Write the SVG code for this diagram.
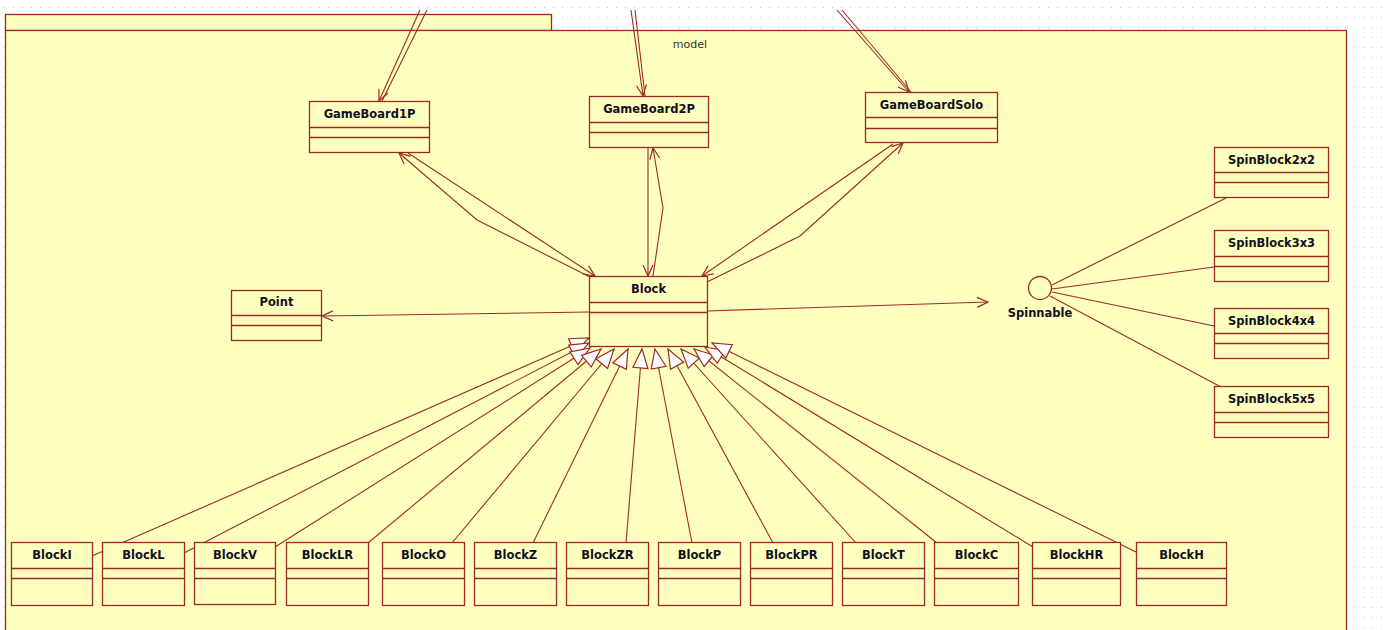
<svg xmlns="http://www.w3.org/2000/svg" width="1384" height="630" viewBox="0 0 1384 630">
<style>
.cls rect{fill:#FFFFC0;stroke:#9C2A24;stroke-width:1.3}
.cls line{stroke:#9C2A24;stroke-width:1.3}
.cls text{font-family:"DejaVu Sans",Verdana,sans-serif;font-weight:bold;font-size:11.5px;fill:#101020;text-anchor:middle}
.con path,.con line,.con polyline{fill:none;stroke:#9C2A24;stroke-width:1.1}
.lbl{font-family:"DejaVu Sans",Verdana,sans-serif;font-size:11px;fill:#333}
</style>
<defs>
<pattern id="dots" width="9" height="10" patternUnits="userSpaceOnUse">
<rect x="4" y="7" width="1" height="1" fill="#c8c8c8"/>
</pattern>
<marker id="open" markerUnits="userSpaceOnUse" markerWidth="14" markerHeight="12" refX="11" refY="5" orient="auto" overflow="visible">
<path d="M0,0 L11,5 L0,10" fill="none" stroke="#9C2A24" stroke-width="1.2"/>
</marker>
<marker id="tri" markerUnits="userSpaceOnUse" markerWidth="22" markerHeight="18" refX="19" refY="7.5" orient="auto" overflow="visible">
<path d="M0,0 L19,7.5 L0,15 Z" fill="#ffffff" stroke="#9C2A24" stroke-width="1.2"/>
</marker>
</defs>
<rect x="0" y="0" width="1384" height="630" fill="#ffffff"/>
<rect x="0" y="0" width="1384" height="630" fill="url(#dots)"/>
<g id="package">
<rect x="5.5" y="14.5" width="546" height="16" fill="#FFFFC0" stroke="#9C2A24" stroke-width="1.3"/>
<rect x="5.5" y="30.5" width="1341" height="620" fill="#FFFFC0" stroke="#9C2A24" stroke-width="1.3"/>
<text class="lbl" x="690" y="48" text-anchor="middle">model</text>
</g>
<g class="con" id="connectors">
<line x1="420" y1="10" x2="379" y2="101" marker-end="url(#open)"/>
<line x1="427" y1="10" x2="382" y2="101"/>
<line x1="631" y1="10" x2="643" y2="96" marker-end="url(#open)"/>
<line x1="635" y1="10" x2="645" y2="96"/>
<line x1="837" y1="10" x2="909" y2="92" marker-end="url(#open)"/>
<line x1="842" y1="10" x2="911" y2="92"/>
<polyline points="590,277 477,220 399,153" marker-end="url(#open)"/>
<line x1="408" y1="153" x2="595" y2="276" marker-end="url(#open)"/>
<line x1="648" y1="148" x2="648" y2="276" marker-end="url(#open)"/>
<polyline points="653,276 663,208 653,148" marker-end="url(#open)"/>
<line x1="893" y1="144" x2="702" y2="276" marker-end="url(#open)"/>
<polyline points="707,282 800,236 903,143" marker-end="url(#open)"/>
<line x1="590" y1="312" x2="322" y2="316" marker-end="url(#open)"/>
<line x1="707" y1="311" x2="988" y2="302" marker-end="url(#open)"/>
<line x1="1052" y1="285" x2="1226" y2="198"/>
<line x1="1052" y1="289" x2="1214" y2="267"/>
<line x1="1052" y1="292" x2="1214" y2="326"/>
<line x1="1050" y1="296" x2="1221" y2="387"/>
<line x1="92" y1="556" x2="589" y2="338" marker-end="url(#tri)"/>
<line x1="184" y1="553" x2="589" y2="343" marker-end="url(#tri)"/>
<line x1="275" y1="547" x2="590" y2="348" marker-end="url(#tri)"/>
<line x1="368" y1="543" x2="601" y2="349" marker-end="url(#tri)"/>
<line x1="452" y1="543" x2="614" y2="349" marker-end="url(#tri)"/>
<line x1="533" y1="543" x2="628" y2="349" marker-end="url(#tri)"/>
<line x1="626" y1="543" x2="642" y2="349" marker-end="url(#tri)"/>
<line x1="692" y1="543" x2="655" y2="349" marker-end="url(#tri)"/>
<line x1="773" y1="543" x2="668" y2="349" marker-end="url(#tri)"/>
<line x1="856" y1="543" x2="681" y2="349" marker-end="url(#tri)"/>
<line x1="937" y1="543" x2="694" y2="349" marker-end="url(#tri)"/>
<line x1="1033" y1="547" x2="705" y2="347" marker-end="url(#tri)"/>
<line x1="1136" y1="552" x2="712" y2="343" marker-end="url(#tri)"/>
</g>
<g class="cls" id="GameBoard1P"><rect x="309.5" y="101.5" width="120" height="51"/><line x1="309.5" y1="127.5" x2="429.5" y2="127.5"/><line x1="309.5" y1="137.5" x2="429.5" y2="137.5"/><text x="369.5" y="118">GameBoard1P</text></g>
<g class="cls" id="GameBoard2P"><rect x="589.5" y="96.5" width="119" height="51"/><line x1="589.5" y1="122.5" x2="708.5" y2="122.5"/><line x1="589.5" y1="132.5" x2="708.5" y2="132.5"/><text x="649" y="113">GameBoard2P</text></g>
<g class="cls" id="GameBoardSolo"><rect x="865.5" y="92.5" width="132" height="50"/><line x1="865.5" y1="117.5" x2="997.5" y2="117.5"/><line x1="865.5" y1="128.5" x2="997.5" y2="128.5"/><text x="931.5" y="109">GameBoardSolo</text></g>
<g class="cls" id="Block"><rect x="589.5" y="276.5" width="118" height="70"/><line x1="589.5" y1="302.5" x2="707.5" y2="302.5"/><line x1="589.5" y1="312.5" x2="707.5" y2="312.5"/><text x="648.5" y="293">Block</text></g>
<g class="cls" id="Point"><rect x="231.5" y="290.5" width="90" height="50"/><line x1="231.5" y1="315.5" x2="321.5" y2="315.5"/><line x1="231.5" y1="325.5" x2="321.5" y2="325.5"/><text x="276.5" y="306">Point</text></g>
<g class="cls" id="Spinnable"><circle cx="1040" cy="288" r="11.5" fill="#FFFFC0" stroke="#9C2A24" stroke-width="1.3"/><text x="1040" y="317">Spinnable</text></g>
<g class="cls" id="SpinBlock2x2"><rect x="1214.5" y="147.5" width="114" height="50"/><line x1="1214.5" y1="172.5" x2="1328.5" y2="172.5"/><line x1="1214.5" y1="182.5" x2="1328.5" y2="182.5"/><text x="1271.5" y="164">SpinBlock2x2</text></g>
<g class="cls" id="SpinBlock3x3"><rect x="1214.5" y="230.5" width="114" height="51"/><line x1="1214.5" y1="256.5" x2="1328.5" y2="256.5"/><line x1="1214.5" y1="266.5" x2="1328.5" y2="266.5"/><text x="1271.5" y="247">SpinBlock3x3</text></g>
<g class="cls" id="SpinBlock4x4"><rect x="1214.5" y="308.5" width="114" height="50"/><line x1="1214.5" y1="333.5" x2="1328.5" y2="333.5"/><line x1="1214.5" y1="343.5" x2="1328.5" y2="343.5"/><text x="1271.5" y="325">SpinBlock4x4</text></g>
<g class="cls" id="SpinBlock5x5"><rect x="1214.5" y="386.5" width="114" height="51"/><line x1="1214.5" y1="412.5" x2="1328.5" y2="412.5"/><line x1="1214.5" y1="422.5" x2="1328.5" y2="422.5"/><text x="1271.5" y="403">SpinBlock5x5</text></g>
<g class="cls" id="BlockI"><rect x="11.5" y="542.5" width="81" height="63"/><line x1="11.5" y1="568.5" x2="92.5" y2="568.5"/><line x1="11.5" y1="578.5" x2="92.5" y2="578.5"/><text x="52" y="559">BlockI</text></g>
<g class="cls" id="BlockL"><rect x="102.5" y="542.5" width="82" height="63"/><line x1="102.5" y1="568.5" x2="184.5" y2="568.5"/><line x1="102.5" y1="578.5" x2="184.5" y2="578.5"/><text x="143.5" y="559">BlockL</text></g>
<g class="cls" id="BlockV"><rect x="194.5" y="542.5" width="81" height="62"/><line x1="194.5" y1="568.5" x2="275.5" y2="568.5"/><line x1="194.5" y1="578.5" x2="275.5" y2="578.5"/><text x="235" y="559">BlockV</text></g>
<g class="cls" id="BlockLR"><rect x="286.5" y="542.5" width="82" height="63"/><line x1="286.5" y1="568.5" x2="368.5" y2="568.5"/><line x1="286.5" y1="578.5" x2="368.5" y2="578.5"/><text x="327.5" y="559">BlockLR</text></g>
<g class="cls" id="BlockO"><rect x="382.5" y="542.5" width="82" height="63"/><line x1="382.5" y1="568.5" x2="464.5" y2="568.5"/><line x1="382.5" y1="578.5" x2="464.5" y2="578.5"/><text x="423.5" y="559">BlockO</text></g>
<g class="cls" id="BlockZ"><rect x="474.5" y="542.5" width="82" height="63"/><line x1="474.5" y1="568.5" x2="556.5" y2="568.5"/><line x1="474.5" y1="578.5" x2="556.5" y2="578.5"/><text x="515.5" y="559">BlockZ</text></g>
<g class="cls" id="BlockZR"><rect x="566.5" y="542.5" width="82" height="63"/><line x1="566.5" y1="568.5" x2="648.5" y2="568.5"/><line x1="566.5" y1="578.5" x2="648.5" y2="578.5"/><text x="607.5" y="559">BlockZR</text></g>
<g class="cls" id="BlockP"><rect x="658.5" y="542.5" width="82" height="63"/><line x1="658.5" y1="568.5" x2="740.5" y2="568.5"/><line x1="658.5" y1="578.5" x2="740.5" y2="578.5"/><text x="699.5" y="559">BlockP</text></g>
<g class="cls" id="BlockPR"><rect x="750.5" y="542.5" width="82" height="63"/><line x1="750.5" y1="568.5" x2="832.5" y2="568.5"/><line x1="750.5" y1="578.5" x2="832.5" y2="578.5"/><text x="791.5" y="559">BlockPR</text></g>
<g class="cls" id="BlockT"><rect x="842.5" y="542.5" width="82" height="63"/><line x1="842.5" y1="568.5" x2="924.5" y2="568.5"/><line x1="842.5" y1="578.5" x2="924.5" y2="578.5"/><text x="883.5" y="559">BlockT</text></g>
<g class="cls" id="BlockC"><rect x="934.5" y="542.5" width="84" height="63"/><line x1="934.5" y1="568.5" x2="1018.5" y2="568.5"/><line x1="934.5" y1="578.5" x2="1018.5" y2="578.5"/><text x="976.5" y="559">BlockC</text></g>
<g class="cls" id="BlockHR"><rect x="1032.5" y="542.5" width="88" height="63"/><line x1="1032.5" y1="568.5" x2="1120.5" y2="568.5"/><line x1="1032.5" y1="578.5" x2="1120.5" y2="578.5"/><text x="1076.5" y="559">BlockHR</text></g>
<g class="cls" id="BlockH"><rect x="1136.5" y="542.5" width="90" height="63"/><line x1="1136.5" y1="568.5" x2="1226.5" y2="568.5"/><line x1="1136.5" y1="578.5" x2="1226.5" y2="578.5"/><text x="1181.5" y="559">BlockH</text></g>
</svg>
